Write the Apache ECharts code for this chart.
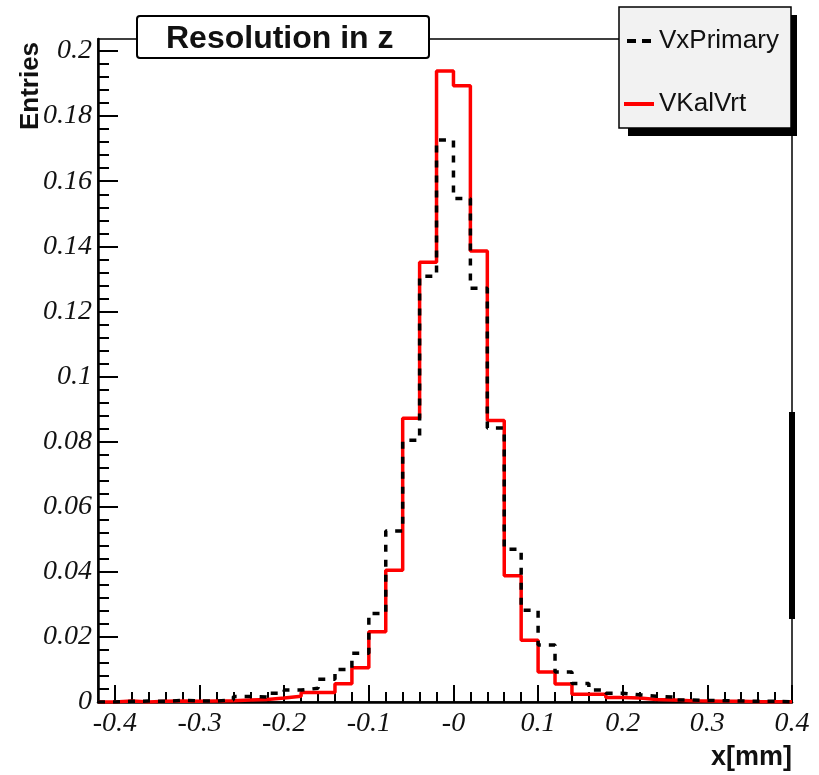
<!DOCTYPE html>
<html>
<head>
<meta charset="utf-8">
<script src="https://cdn.jsdelivr.net/npm/echarts@6.0.0/dist/echarts.min.js"></script>
<style>
  html, body { margin: 0; padding: 0; background: #fff; }
  #main { width: 819px; height: 775px; }
</style>
</head>
<body>
<div id="main"></div>
<script>
// bin edges (mm), 0.02 wide
var binEdges = [-0.42, -0.40, -0.38, -0.36, -0.34, -0.32, -0.30, -0.28, -0.26, -0.24, -0.22,
    -0.20, -0.18, -0.16, -0.14, -0.12, -0.10, -0.08, -0.06, -0.04, -0.02,
    0.00, 0.02, 0.04, 0.06, 0.08, 0.10, 0.12, 0.14, 0.16, 0.18,
    0.20, 0.22, 0.24, 0.26, 0.28, 0.30, 0.32, 0.34, 0.36, 0.38, 0.40];

// bin contents, one per bin (left edge order)
var vxPrimary = [0, 0.0002, 0.0003, 0.0002, 0.0005, 0.0003, 0.0003, 0.0007, 0.0017, 0.0015, 0.0027,
    0.0037, 0.0042, 0.0070, 0.0100, 0.0150, 0.0272, 0.0525, 0.0804, 0.1308, 0.1727,
    0.1547, 0.1271, 0.0842, 0.0469, 0.0282, 0.0175, 0.0092, 0.0057, 0.0037, 0.0027,
    0.0022, 0.0018, 0.0015, 0.0006, 0.0005, 0.0004, 0.0003, 0.0002, 0.0002, 0.0001];

var vKalVrt = [0, 0.0003, 0, 0.0002, 0.0003, 0.0002, 0.0003, 0.0004, 0.0006, 0.0008, 0.0012,
    0.0018, 0.0029, 0.0029, 0.0056, 0.0105, 0.0216, 0.0405, 0.0872, 0.1351, 0.1939,
    0.1893, 0.1386, 0.0865, 0.0388, 0.0190, 0.0092, 0.0055, 0.0024, 0.0024, 0.0014,
    0.0012, 0.0008, 0.0006, 0.0004, 0.0003, 0.0002, 0.0002, 0.0001, 0.0001, 0.0001];

var xTickLabels = [-0.4, -0.3, -0.2, -0.1, 0, 0.1, 0.2, 0.3, 0.4];
var yTickLabels = [0, 0.02, 0.04, 0.06, 0.08, 0.1, 0.12, 0.14, 0.16, 0.18, 0.2];

var xMinor = [];
for (var i = -20; i <= 20; i++) xMinor.push(+(i * 0.02).toFixed(2));
var yMinor = [];
for (var j = 0; j <= 50; j++) yMinor.push(+(j * 0.004).toFixed(3));

function steps(vals) {
    var pts = vals.map(function (v, k) { return [binEdges[k], v]; });
    pts.push([binEdges[vals.length], vals[vals.length - 1]]);
    return pts;
}

var labelFont = {
    fontFamily: 'Liberation Serif',
    fontStyle: 'italic',
    fontSize: 28,
    color: '#111'
};

var myChart = echarts.init(document.getElementById('main'));
myChart.setOption({
    animation: false,
    backgroundColor: '#fff',
    title: {
        text: 'Resolution in z',
        left: 166,
        top: 23,
        padding: 0,
        z: 20,
        textStyle: {
            fontFamily: 'Liberation Sans',
            fontWeight: 'bold',
            fontSize: 32,
            color: '#111'
        }
    },
    legend: {
        data: [
            { name: 'VxPrimary', icon: 'path://M0,0h9v4h-9z M15,0h9v4h-9z', itemStyle: { color: '#000' } },
            { name: 'VKalVrt', icon: 'path://M0,0h30v4h-30z', itemStyle: { color: '#ff0000' } }
        ],
        orient: 'vertical',
        left: 619,
        top: 21,
        itemWidth: 30,
        itemHeight: 4,
        itemGap: 33,
        z: 20,
        textStyle: {
            fontFamily: 'Liberation Sans',
            fontSize: 26,
            lineHeight: 30,
            color: '#111'
        }
    },
    grid: {
        left: 98,
        right: 27,
        top: 39,
        bottom: 73,
        show: true,
        borderColor: '#000',
        borderWidth: 1.5
    },
    xAxis: [{
        type: 'value',
        min: -0.42,
        max: 0.4,
        axisLine: { onZero: false, lineStyle: { color: '#000', width: 2.5 } },
        axisTick: { inside: true, length: 17, customValues: xTickLabels, lineStyle: { color: '#000', width: 2 } },
        axisLabel: {
            customValues: xTickLabels,
            margin: 8,
            formatter: function (v) { return v === 0 ? '-0' : String(v); },
            fontFamily: labelFont.fontFamily,
            fontStyle: labelFont.fontStyle,
            fontSize: labelFont.fontSize,
            color: labelFont.color
        },
        splitLine: { show: false }
    }, {
        type: 'value',
        position: 'bottom',
        min: -0.42,
        max: 0.4,
        axisLine: { show: false, onZero: false },
        axisTick: { inside: true, length: 10, customValues: xMinor, lineStyle: { color: '#000', width: 2 } },
        axisLabel: { show: false },
        splitLine: { show: false }
    }],
    yAxis: [{
        type: 'value',
        min: 0,
        max: 0.2037,
        axisLine: { show: true, onZero: false, lineStyle: { color: '#000', width: 2.5 } },
        axisTick: { show: true, inside: true, length: 20, customValues: yTickLabels, lineStyle: { color: '#000', width: 2 } },
        axisLabel: {
            customValues: yTickLabels,
            margin: 6,
            fontFamily: labelFont.fontFamily,
            fontStyle: labelFont.fontStyle,
            fontSize: labelFont.fontSize,
            color: labelFont.color
        },
        splitLine: { show: false }
    }, {
        type: 'value',
        position: 'left',
        min: 0,
        max: 0.2037,
        axisLine: { show: false, onZero: false },
        axisTick: { show: true, inside: true, length: 11, customValues: yMinor, lineStyle: { color: '#000', width: 2 } },
        axisLabel: { show: false },
        splitLine: { show: false }
    }],
    graphic: [
        // title box
        { type: 'rect', z: 10, shape: { x: 137, y: 16, width: 292, height: 42, r: 3 },
          style: { fill: '#fff', stroke: '#000', lineWidth: 2 } },
        // legend box with shadow
        { type: 'rect', z: 10, shape: { x: 628, y: 15, width: 169, height: 121 },
          style: { fill: '#000' } },
        { type: 'rect', z: 11, shape: { x: 619, y: 7, width: 172, height: 121 },
          style: { fill: '#f2f2f2', stroke: '#000', lineWidth: 1.5 } },
        // heavy mark on the right frame
        { type: 'rect', z: 10, shape: { x: 789, y: 412, width: 6, height: 207 },
          style: { fill: '#000' } },
        { type: 'text', z: 10, x: 31, y: 86, rotation: Math.PI / 2,
          style: { text: 'Entries', fontFamily: 'Liberation Sans', fontWeight: 'bold', fontSize: 26,
                   fill: '#111', textAlign: 'center', textVerticalAlign: 'middle' } },
        { type: 'text', z: 10, x: 792, y: 758,
          style: { text: 'x[mm]', fontFamily: 'Liberation Sans', fontWeight: 'bold', fontSize: 27,
                   fill: '#111', textAlign: 'right', textVerticalAlign: 'middle' } }
    ],
    series: [{
        name: 'VKalVrt',
        type: 'line',
        step: 'end',
        symbol: 'none',
        lineStyle: { color: '#ff0000', width: 3.5 },
        itemStyle: { color: '#ff0000' },
        data: steps(vKalVrt)
    }, {
        name: 'VxPrimary',
        type: 'line',
        step: 'end',
        symbol: 'none',
        lineStyle: { color: '#000', width: 3.5, type: [7, 8] },
        itemStyle: { color: '#000' },
        data: steps(vxPrimary)
    }]
});
</script>
</body>
</html>
